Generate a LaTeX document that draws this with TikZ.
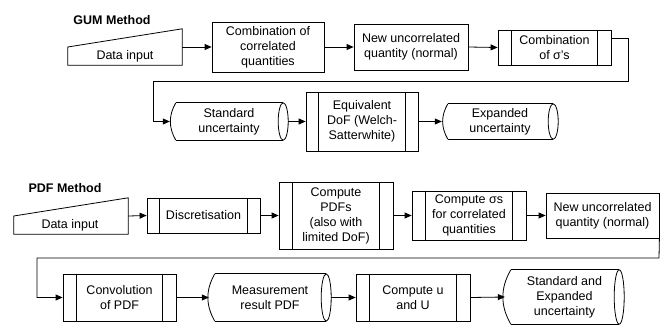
\documentclass[tikz,border=0pt]{standalone}
\usepackage{fontspec}
\setmainfont{Liberation Sans}
\usetikzlibrary{arrows.meta,calc}
\tikzset{
  base/.style={inner sep=0pt, align=center, font=\fontsize{12.5}{15}\selectfont},
  proc/.style={base, draw, line width=0.8pt},
  predef/.style={base, draw, line width=0.8pt},
  hidden/.style={base, draw=none},
  title/.style={base, font=\bfseries\fontsize{12.5}{15}\selectfont},
  flow/.style={line width=0.8pt, -{Triangle[length=7pt,width=6pt]}},
  outline/.style={line width=0.8pt},
}
\newcommand{\predefbars}[2]{%
  \draw[outline] ([xshift=#2]#1.north west) -- ([xshift=#2]#1.south west);
  \draw[outline] ([xshift=-#2]#1.north east) -- ([xshift=-#2]#1.south east);}
\newcommand{\storedshape}[1]{%
  \draw[outline] ([xshift=6pt]#1.north west) -- ([xshift=-5pt]#1.north east);
  \draw[outline] ([xshift=6pt]#1.south west) -- ([xshift=-5pt]#1.south east);
  \draw[outline] ([xshift=6pt]#1.north west) to[bend right=30] ([xshift=6pt]#1.south west);
  \draw[outline] let \p1=(#1.north), \p2=(#1.south) in
    ([xshift=-5pt]#1.east) ellipse [x radius=5pt, y radius={0.5*abs(\y1-\y2)}];}
\newcommand{\manshape}[1]{%
  \draw[outline] (#1.west) -- (#1.north east) -- (#1.south east) -- (#1.south west) -- cycle;}
\begin{document}
\begin{tikzpicture}[x=1pt,y=-1pt]
\useasboundingbox (0,0) rectangle (663,324);
% ---------- GUM ----------
\node[title] (gum) at (112,20) {GUM Method};
\node[hidden, minimum width=114pt, minimum height=36pt] (din1) at (125,47) {};
\manshape{din1}
\node[base] (din1t) at (125,56) {Data input};
\node[proc, minimum width=112pt, minimum height=50pt] (comb) at (268,47) {Combination of\\correlated\\quantities};
\node[proc, minimum width=114pt, minimum height=46pt] (newq1) at (411,47) {New uncorrelated\\quantity (normal)};
\node[predef, minimum width=113pt, minimum height=35pt] (combs) at (554.5,47.5) {Combination\\of σ’s};
\predefbars{combs}{14pt}
\node[hidden, minimum width=118pt, minimum height=37pt] (stdu) at (229,121.5) {Standard\\uncertainty};
\storedshape{stdu}
\node[predef, minimum width=112pt, minimum height=59pt] (eqdof) at (362,121.5) {Equivalent\\DoF (Welch-\\Satterwhite)};
\predefbars{eqdof}{13pt}
\node[hidden, minimum width=116pt, minimum height=35pt] (expu) at (500,121.5) {Expanded\\uncertainty};
\storedshape{expu}
\coordinate (g1) at ($(combs.east)+(0,-9.5)$);
\coordinate (g2) at (628,38);
\coordinate (g3) at (628,81);
\coordinate (g4) at (153,81);
\coordinate (g5) at (153,121.5);
\draw[flow] (din1.east) -- (comb.west);
\draw[flow] (comb.east) -- (newq1.west);
\draw[flow] (newq1.east) -- (combs.west);
\draw[flow] (g1) -- (g2) -- (g3) -- (g4) -- (g5) -- (stdu.west);
\draw[flow] (stdu.east) -- (eqdof.west);
\draw[flow] (eqdof.east) -- (expu.west);
% ---------- PDF ----------
\node[title] (pdf) at (65,188) {PDF Method};
\node[hidden, minimum width=114pt, minimum height=36pt] (din2) at (71,216) {};
\manshape{din2}
\node[base] (din2t) at (70,225) {Data input};
\node[predef, minimum width=113pt, minimum height=35pt] (disc) at (203.5,215.5) {Discretisation};
\predefbars{disc}{13pt}
\node[predef, minimum width=114pt, minimum height=67pt] (cpdf) at (336,215.5) {Compute\\PDFs\\(also with\\limited DoF)};
\predefbars{cpdf}{14pt}
\node[predef, minimum width=114pt, minimum height=49pt] (csig) at (469,215.5) {Compute σs\\for correlated\\quantities};
\predefbars{csig}{14pt}
\node[proc, minimum width=113pt, minimum height=45pt] (newq2) at (602.5,215.5) {New uncorrelated\\quantity (normal)};
\node[predef, minimum width=113pt, minimum height=47pt] (conv) at (119.5,297.5) {Convolution\\of PDF};
\predefbars{conv}{14pt}
\node[hidden, minimum width=122pt, minimum height=47pt] (mres) at (270,297.5) {Measurement\\result PDF};
\storedshape{mres}
\node[predef, minimum width=114pt, minimum height=47pt] (cuU) at (413,297.5) {Compute u\\and U};
\predefbars{cuU}{14pt}
\node[hidden, minimum width=119pt, minimum height=54pt] (seu) at (564.5,297) {Standard and\\Expanded\\uncertainty};
\storedshape{seu}
\coordinate (p1) at (659,258);
\coordinate (p2) at (37,258);
\coordinate (p3) at (37,297.5);
\draw[flow] (din2.east) -- (disc.west);
\draw[flow] (disc.east) -- (cpdf.west);
\draw[flow] (cpdf.east) -- (csig.west);
\draw[flow] (csig.east) -- (newq2.west);
\draw[flow] (newq2.south east) -- (p1) -- (p2) -- (p3) -- (conv.west);
\draw[flow] (conv.east) -- (mres.west);
\draw[flow] (mres.east) -- (cuU.west);
\draw[flow] (cuU.east) -- (seu.west);
\end{tikzpicture}
\end{document}
